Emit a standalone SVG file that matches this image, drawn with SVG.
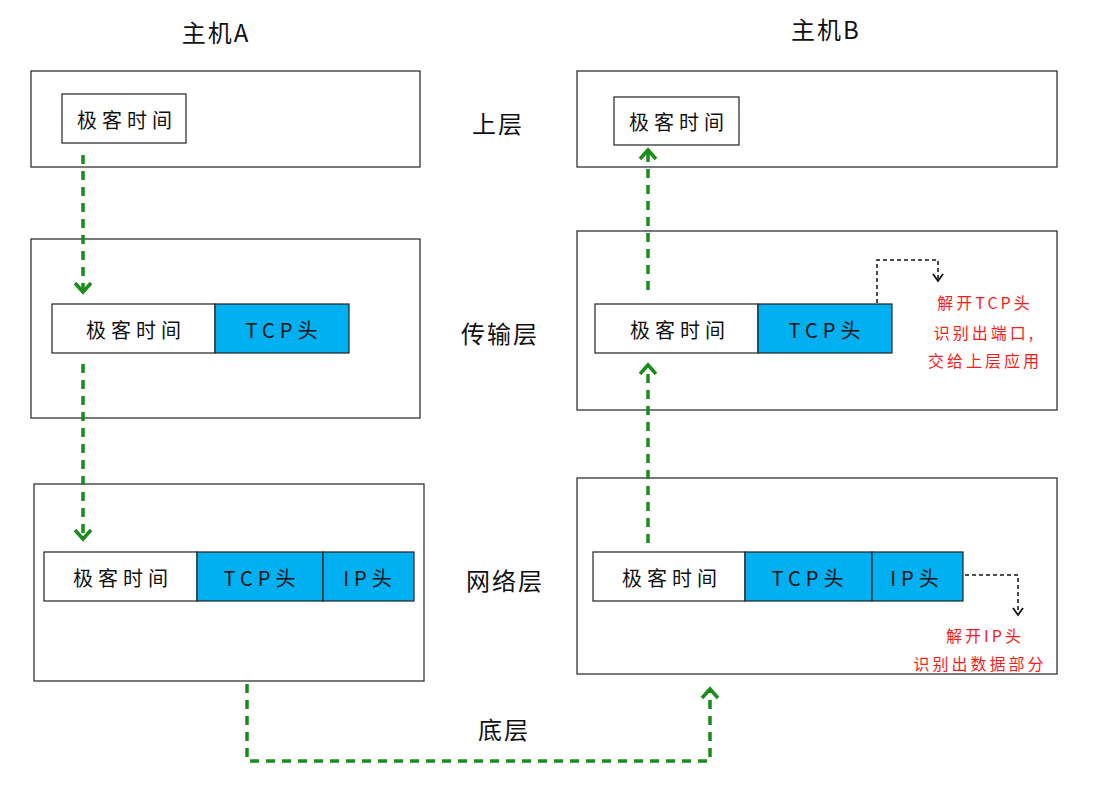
<svg xmlns="http://www.w3.org/2000/svg" width="1096" height="789" viewBox="0 0 1096 789">
<defs>
<style>
.box{fill:#fff;stroke:#333;stroke-width:1.3}
.cell{fill:#fff;stroke:#222;stroke-width:1.2}
.blue{fill:#00b0f0;stroke:#222;stroke-width:1.2}
.t{font-family:"Noto Sans CJK SC","Liberation Sans",sans-serif;fill:#111;text-anchor:middle;dominant-baseline:central}
.lbl{font-size:24px;letter-spacing:2px}
.ct{font-size:20px;letter-spacing:5px}
.red{font-size:16px;fill:#ff1a1a;letter-spacing:3px}
.g{fill:none;stroke:#1a8c1a;stroke-width:3.5;stroke-dasharray:9 7}
.k{fill:none;stroke:#111;stroke-width:1.5;stroke-dasharray:4 3}
</style>
<marker id="ga" viewBox="0 0 20 20" refX="12" refY="10" markerWidth="20" markerHeight="20" markerUnits="userSpaceOnUse" orient="auto">
<path d="M3,2 L12,10 L3,18" fill="none" stroke="#1a8c1a" stroke-width="3.5"/>
</marker>
<marker id="ka" viewBox="0 0 12 12" refX="9" refY="6" markerWidth="12" markerHeight="12" markerUnits="userSpaceOnUse" orient="auto">
<path d="M2,1 L9,6 L2,11" fill="none" stroke="#111" stroke-width="1.8"/>
</marker>
</defs>
<rect width="1096" height="789" fill="#fff"/>
<g id="titles">
<text class="t lbl" x="216" y="31">主机A</text>
<text class="t lbl" x="826" y="28">主机B</text>
<text class="t lbl" x="498" y="122">上层</text>
<text class="t lbl" x="500" y="332">传输层</text>
<text class="t lbl" x="505" y="579">网络层</text>
<text class="t lbl" x="504" y="728">底层</text>
</g>
<g id="a-top">
<rect class="box" x="31" y="71" width="389" height="96"/>
<rect class="cell" x="62" y="94" width="124" height="49"/>
<text class="t ct" x="127" y="119">极客时间</text>
</g>
<g id="a-transport">
<rect class="box" x="31" y="239" width="389" height="179"/>
<rect class="cell" x="52" y="304" width="163" height="49"/>
<rect class="blue" x="215" y="304" width="134" height="49"/>
<text class="t ct" x="136" y="329">极客时间</text>
<text class="t ct" x="284" y="329">TCP头</text>
</g>
<g id="a-network">
<rect class="box" x="34" y="484" width="390" height="197"/>
<rect class="cell" x="44" y="552" width="153" height="49"/>
<rect class="blue" x="197" y="552" width="126" height="49"/>
<rect class="blue" x="323" y="552" width="91" height="49"/>
<text class="t ct" x="123" y="577">极客时间</text>
<text class="t ct" x="262" y="577">TCP头</text>
<text class="t ct" x="370" y="577">IP头</text>
</g>
<g id="b-top">
<rect class="box" x="577" y="71" width="480" height="96"/>
<rect class="cell" x="614" y="97" width="125" height="48"/>
<text class="t ct" x="679" y="121">极客时间</text>
</g>
<g id="b-transport">
<rect class="box" x="577" y="231" width="480" height="179"/>
<rect class="cell" x="595" y="304" width="163" height="49"/>
<rect class="blue" x="758" y="304" width="134" height="49"/>
<text class="t ct" x="680" y="329">极客时间</text>
<text class="t ct" x="827" y="329">TCP头</text>
<text class="t red" x="985" y="302">解开TCP头</text>
<text class="t red" x="985" y="332">识别出端口,</text>
<text class="t red" x="985" y="360">交给上层应用</text>
</g>
<g id="b-network">
<rect class="box" x="577" y="478" width="480" height="196"/>
<rect class="cell" x="593" y="552" width="152" height="49"/>
<rect class="blue" x="745" y="552" width="127" height="49"/>
<rect class="blue" x="872" y="552" width="91" height="49"/>
<text class="t ct" x="672" y="577">极客时间</text>
<text class="t ct" x="810" y="577">TCP头</text>
<text class="t ct" x="917" y="577">IP头</text>
<text class="t red" x="985" y="635">解开IP头</text>
<text class="t red" x="980" y="663">识别出数据部分</text>
</g>
<g id="connectors">
<path class="g" d="M83,155 V292" marker-end="url(#ga)"/>
<path class="g" d="M83,364 V539" marker-end="url(#ga)"/>
<path class="g" d="M247,684 V761 H710 V689" marker-end="url(#ga)"/>
<path class="g" d="M648,543 V365" marker-end="url(#ga)"/>
<path class="g" d="M648,290 V150" marker-end="url(#ga)"/>
<path class="k" d="M877,303 V260 H938 V281" marker-end="url(#ka)"/>
<path class="k" d="M965,575 H1018 V615" marker-end="url(#ka)"/>
</g>
</svg>
